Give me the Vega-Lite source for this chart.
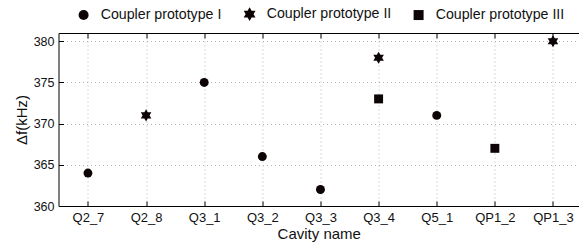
{
  "$schema": "https://vega.github.io/schema/vega-lite/v6.json",
  "width": 520.5,
  "height": 173,
  "autosize": {"type": "none"},
  "padding": {"left": 58.5, "top": 33, "right": 0, "bottom": 36},
  "background": "white",
  "config": {
    "view": {"stroke": null},
    "font": "Liberation Sans",
    "axis": {
      "domainColor": "#000",
      "domainWidth": 1,
      "tickColor": "#000",
      "labelColor": "#111",
      "titleColor": "#111",
      "labelFont": "Liberation Sans",
      "titleFont": "Liberation Sans",
      "titleFontWeight": "normal",
      "gridColor": "#b5b5b5",
      "gridDash": [1, 3],
      "gridWidth": 1
    }
  },
  "data": {
    "values": [
      {"cavity": "Q2_7", "proto": "Coupler prototype I", "df": 364},
      {"cavity": "Q2_8", "proto": "Coupler prototype II", "df": 371},
      {"cavity": "Q3_1", "proto": "Coupler prototype I", "df": 375},
      {"cavity": "Q3_2", "proto": "Coupler prototype I", "df": 366},
      {"cavity": "Q3_3", "proto": "Coupler prototype I", "df": 362},
      {"cavity": "Q3_4", "proto": "Coupler prototype II", "df": 378},
      {"cavity": "Q3_4", "proto": "Coupler prototype III", "df": 373},
      {"cavity": "Q5_1", "proto": "Coupler prototype I", "df": 371},
      {"cavity": "QP1_2", "proto": "Coupler prototype III", "df": 367},
      {"cavity": "QP1_3", "proto": "Coupler prototype II", "df": 380}
    ]
  },
  "layer": [
    {
      "mark": {"type": "point", "filled": true, "opacity": 1, "size": 80, "color": "#0d0505"},
      "encoding": {
        "x": {
          "field": "cavity",
          "type": "nominal",
          "sort": ["Q2_7", "Q2_8", "Q3_1", "Q3_2", "Q3_3", "Q3_4", "Q5_1", "QP1_2", "QP1_3"],
          "scale": {"type": "point", "padding": 0.477, "align": 0.531},
          "axis": {
            "orient": "bottom",
            "title": "Cavity name",
            "titleFontSize": 15,
            "titlePadding": 2,
            "labelFontSize": 13,
            "labelPadding": 10,
            "labelAngle": 0,
            "ticks": true,
            "tickSize": -5,
            "grid": true
          }
        },
        "y": {
          "field": "df",
          "type": "quantitative",
          "scale": {"domain": [360, 381], "nice": false, "zero": false},
          "axis": {
            "title": "Δf(kHz)",
            "titleFontSize": 15,
            "titlePadding": 4,
            "labelFontSize": 12.5,
            "labelPadding": 9.5,
            "values": [360, 365, 370, 375, 380],
            "tickSize": -5,
            "grid": true
          }
        },
        "shape": {
          "field": "proto",
          "type": "nominal",
          "scale": {
            "domain": ["Coupler prototype I", "Coupler prototype II", "Coupler prototype III"],
            "range": ["circle", "M0,-1.36L1.18,0.68L-1.18,0.68Z M0,1.36L-1.18,-0.68L1.18,-0.68Z", "square"]
          },
          "legend": {
            "title": null,
            "orient": "none",
            "direction": "horizontal",
            "legendX": 18,
            "legendY": -26,
            "padding": 0,
            "labelFontSize": 14.2,
            "labelColor": "#111",
            "labelFont": "Liberation Sans",
            "labelOffset": 10,
            "columnPadding": 19,
            "symbolSize": 100,
            "encode": {"symbols": {"update": {"fill": {"value": "#2a0c0c"}, "stroke": {"value": "#2a0c0c"}, "strokeWidth": {"value": 0}}}}
          }
        }
      }
    },
    {
      "mark": {"type": "point", "opacity": 0},
      "encoding": {
        "x": {
          "field": "cavity",
          "type": "nominal",
          "sort": ["Q2_7", "Q2_8", "Q3_1", "Q3_2", "Q3_3", "Q3_4", "Q5_1", "QP1_2", "QP1_3"],
          "axis": {
            "orient": "top",
            "title": null,
            "labels": false,
            "grid": false,
            "ticks": true,
            "tickSize": -5
          }
        }
      }
    }
  ],
  "resolve": {"axis": {"x": "independent"}}
}
